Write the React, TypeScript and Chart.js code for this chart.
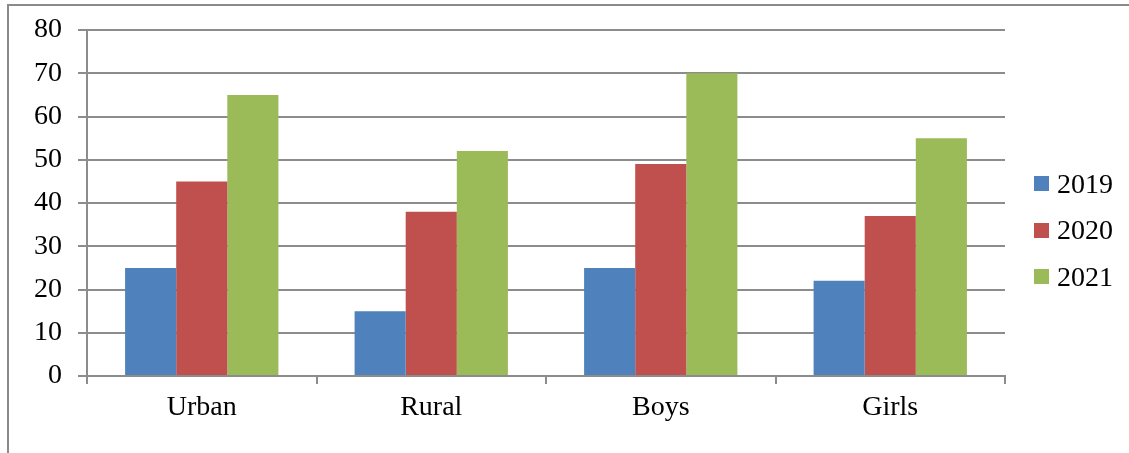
import React, { useEffect, useRef } from "react";
import { Chart, registerables } from "chart.js";

Chart.register(...registerables);

const categories = ["Urban", "Rural", "Boys", "Girls"];
const seriesNames = ["2019", "2020", "2021"];
const values2019 = [25, 15, 25, 22];
const values2020 = [45, 38, 49, 37];
const values2021 = [65, 52, 70, 55];
const seriesColors = ["#4F81BD", "#C0504D", "#9BBB59"];
const yMin = 0;
const yMax = 80;
const yStep = 10;

const FONT = "'Liberation Serif', 'DejaVu Serif', serif";
const FONT_SIZE = 28;
const GRID = "#8c8c8c";

export default function App() {
  const canvasRef = useRef<HTMLCanvasElement | null>(null);

  useEffect(() => {
    const canvas = canvasRef.current;
    if (!canvas) return;
    const seriesValues = [values2019, values2020, values2021];
    const chart = new Chart(canvas, {
      type: "bar",
      data: {
        labels: categories,
        datasets: seriesNames.map((name, i) => ({
          label: name,
          data: seriesValues[i],
          backgroundColor: seriesColors[i],
          borderWidth: 0,
          categoryPercentage: 0.668,
          barPercentage: 1,
        })),
      },
      options: {
        animation: false,
        responsive: false,
        maintainAspectRatio: false,
        layout: { padding: { top: 30, left: 10, right: 124, bottom: 24 } },
        plugins: {
          legend: { display: false },
          tooltip: { enabled: false },
        },
        scales: {
          x: {
            offset: true,
            grid: {
              offset: true,
              drawOnChartArea: false,
              drawTicks: true,
              tickLength: 8,
              color: GRID,
              lineWidth: 2,
            },
            border: { display: true, color: GRID, width: 2 },
            ticks: {
              color: "#000",
              font: { family: FONT, size: FONT_SIZE },
              padding: 7,
              maxRotation: 0,
            },
            afterFit: (scale: any) => {
              scale.height = 53;
              scale.paddingLeft = 0;
              scale.paddingRight = 0;
            },
          },
          y: {
            min: yMin,
            max: yMax,
            grid: {
              color: GRID,
              lineWidth: 2,
              drawTicks: true,
              tickLength: 9,
            },
            border: { display: true, color: GRID, width: 2 },
            ticks: {
              stepSize: yStep,
              color: "#000",
              font: { family: FONT, size: FONT_SIZE },
              padding: 16,
            },
            afterFit: (scale: any) => {
              scale.width = 77;
              scale.paddingTop = 0;
              scale.paddingBottom = 0;
            },
          },
        },
      },
    });
    return () => chart.destroy();
  }, []);

  return (
    <div
      style={{
        position: "fixed",
        left: 0,
        top: 0,
        width: 1129,
        height: 453,
        background: "#fff",
        overflow: "hidden",
      }}
    >
      <div
        style={{
          position: "absolute",
          left: 7,
          top: 4,
          width: 1200,
          height: 600,
          borderLeft: "2px solid #8a8a8a",
          borderTop: "2px solid #8a8a8a",
        }}
      />
      <canvas
        ref={canvasRef}
        width={1129}
        height={453}
        style={{ position: "absolute", left: 0, top: 0, width: 1129, height: 453 }}
      />
      {seriesNames.map((name, i) => (
        <div
          key={name}
          style={{
            position: "absolute",
            left: 1034,
            top: 168.5 + i * 46.5,
            height: 30,
            display: "flex",
            alignItems: "center",
            fontFamily: FONT,
            fontSize: FONT_SIZE,
            color: "#000",
            lineHeight: "30px",
          }}
        >
          <span
            style={{
              display: "inline-block",
              width: 15,
              height: 15,
              background: seriesColors[i],
              marginRight: 8,
            }}
          />
          <span>{name}</span>
        </div>
      ))}
    </div>
  );
}
